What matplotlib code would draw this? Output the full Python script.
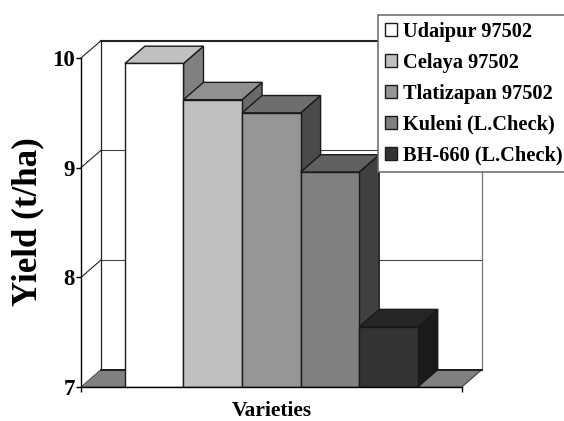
import matplotlib
matplotlib.use("Agg")
import matplotlib.pyplot as plt
from matplotlib.patches import Polygon, Patch

varieties = ["Udaipur 97502", "Celaya 97502", "Tlatizapan 97502", "Kuleni (L.Check)", "BH-660 (L.Check)"]
yields = [9.95, 9.62, 9.50, 8.96, 7.55]
front_colors = ["#FFFFFF", "#C0C0C0", "#969696", "#808080", "#333333"]
top_colors = ["#C0C0C0", "#909090", "#6E6E6E", "#606060", "#262626"]
side_colors = ["#808080", "#696969", "#4A4A4A", "#404040", "#1A1A1A"]
y_ticks = [7, 8, 9, 10]

W, H = 564, 421
XMIN, XMAX, YMIN, YMAX = -1.25, 5.25, 7, 10
DX = 0.341   # oblique depth, in x data units
DY = 0.158   # oblique depth, in y data units
EDGE = "#1a1a1a"

plt.rcParams["font.family"] = ["Liberation Serif", "DejaVu Serif"]
plt.rcParams["font.weight"] = "bold"
fig = plt.figure(figsize=(W / 100, H / 100), dpi=100, facecolor="white")
ax = fig.add_axes([81 / W, 1 - 387 / H, (461.7 - 81) / W, (387 - 58) / H])
ax.set_xlim(XMIN, XMAX)
ax.set_ylim(YMIN, YMAX)
ax.patch.set_visible(False)
for s in ("top", "right"):
    ax.spines[s].set_visible(False)
for s in ("left", "bottom"):
    ax.spines[s].set_linewidth(1.0)
    ax.spines[s].set_color("black")
    ax.spines[s].set_zorder(6)

def poly(points, fc, z, ec=EDGE, lw=1.0):
    ax.add_patch(Polygon(points, closed=True, facecolor=fc, edgecolor=ec, linewidth=lw,
                         clip_on=False, zorder=z, joinstyle="miter"))

# floor
poly([(XMIN, YMIN), (XMAX, YMIN), (XMAX + DX, YMIN + DY), (XMIN + DX, YMIN + DY)], "#808080", 1, ec="#555555", lw=0.8)
ax.plot([XMIN + DX, XMAX + DX], [YMIN + DY] * 2, color="#111111", lw=1.2, clip_on=False, zorder=1.5)

# walls and grid
for v in y_ticks[1:]:
    ax.plot([XMIN, XMIN + DX], [v, v + DY], color="#222222", lw=0.8, clip_on=False, zorder=1)
    ax.plot([XMIN + DX, XMAX + DX], [v + DY, v + DY],
            color="#222222" if v == 10 else "#444444", lw=1.5 if v == 10 else 0.8,
            clip_on=False, zorder=1)
ax.plot([XMIN + DX] * 2, [YMIN + DY, YMAX + DY], color="#222222", lw=0.9, clip_on=False, zorder=1)
ax.plot([XMAX + DX] * 2, [YMIN + DY, YMAX + DY], color="#777777", lw=0.9, clip_on=False, zorder=1)
ax.plot([XMAX, XMAX + DX], [YMIN, YMIN + DY], color="#555555", lw=0.8, clip_on=False, zorder=1)

# bars
for i, (v, f, t, s) in enumerate(zip(yields, front_colors, top_colors, side_colors)):
    z = 2 + i * 0.1
    l, r = i - 0.5, i + 0.5
    poly([(r, YMIN), (r + DX, YMIN + DY), (r + DX, v + DY), (r, v)], s, z)
    poly([(l, v), (r, v), (r + DX, v + DY), (l + DX, v + DY)], t, z)
    ax.bar(i, v - YMIN, bottom=YMIN, width=1.0, color=f, edgecolor=EDGE, linewidth=1.0, zorder=z + 0.01)

ax.set_yticks(y_ticks)
ax.set_xticks([XMIN, XMAX])
ax.set_xticklabels([])
ax.tick_params(axis="both", length=3.8, width=1.0, color="black")
ax.tick_params(axis="y", pad=0.5, labelsize=16.5)
for lab in ax.get_yticklabels():
    lab.set_fontweight("bold")

fig.text(28 / W, 1 - 222 / H, "Yield (t/ha)", rotation=90, ha="center", va="center", fontsize=25.2, fontweight="bold")
fig.text(271.5 / W, 1 - 411 / H, "Varieties", ha="center", va="center", fontsize=15.5, fontweight="bold")

handles = [Patch(facecolor=f, edgecolor=EDGE, linewidth=1.0) for f in front_colors]
leg = ax.legend(handles, varieties, loc="upper left", bbox_to_anchor=(378 / W, 1 - 15 / H),
                bbox_transform=fig.transFigure, fancybox=False, framealpha=1, edgecolor="#666666",
                borderaxespad=0, borderpad=0.32, labelspacing=0.54, handlelength=0.6, handleheight=0.6,
                handletextpad=0.3, prop={"family": "Liberation Serif", "weight": "bold", "size": 14.7})
leg.get_frame().set_linewidth(1.1)
leg.set_zorder(10)

fig.savefig("out.png", dpi=100)
